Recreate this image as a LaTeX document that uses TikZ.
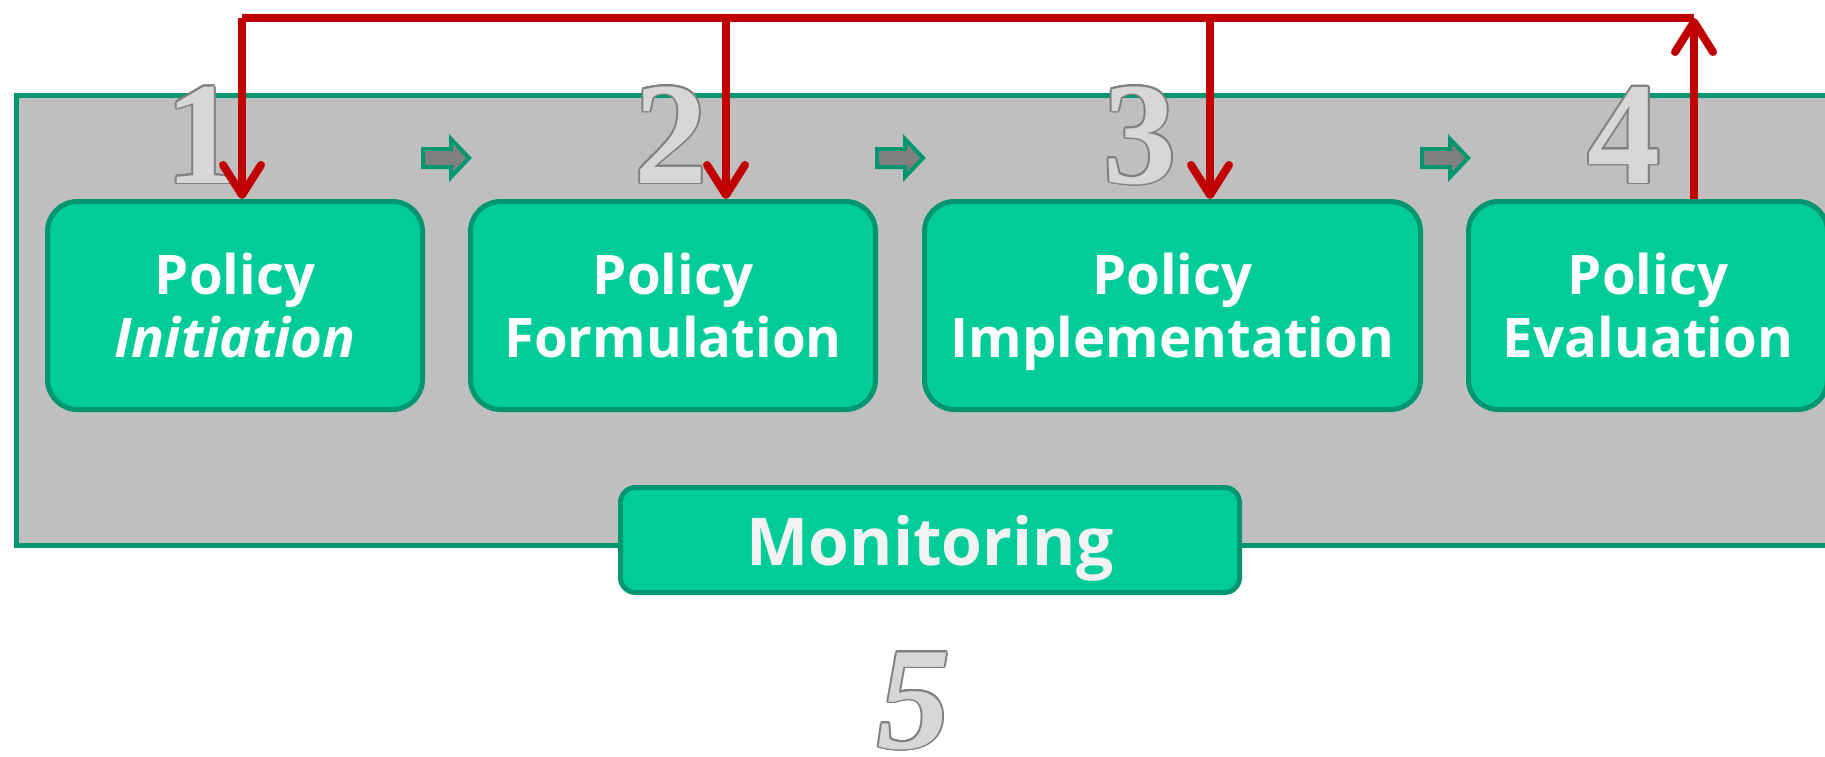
\documentclass[tikz,border=0pt]{standalone}
\usepackage{fontspec}
\setmainfont{Open Sans}
\newfontfamily\numfont{Liberation Serif}
\usepackage{contour}
\usepackage{tikz}
\usetikzlibrary{arrows.meta,positioning}
\definecolor{stgreen}{RGB}{0,204,153}
\definecolor{stedge}{RGB}{0,150,112}
\definecolor{panel}{RGB}{191,191,191}
\definecolor{fbred}{RGB}{192,0,0}
\definecolor{numfill}{RGB}{215,215,215}
\definecolor{numedge}{RGB}{128,128,128}
\definecolor{montext}{RGB}{242,242,242}
\contourlength{1.6pt}
\tikzstyle{stage} = [draw=stedge, line width=5pt, fill=stgreen, rounded corners=30pt, text=white, align=center, font=\fontsize{54.6}{63}\selectfont\bfseries, text depth=0pt, inner sep=0pt, minimum height=208pt]
\tikzstyle{monbox} = [draw=stedge, line width=5pt, fill=stgreen, rounded corners=15pt, text=montext, font=\fontsize{66}{70}\selectfont\bfseries, text depth=0pt, inner sep=0pt, minimum width=619pt, minimum height=105pt]
\tikzstyle{num} = [font=\fontsize{146}{146}\selectfont\numfont\bfseries, inner sep=0pt, text depth=0pt, anchor=base]
\tikzstyle{feedback} = [line width=8pt, color=fbred]
\tikzstyle{fbarrow} = [feedback, -{Straight Barb[length=30pt,width=38pt,line cap=round,line join=round]}]
\tikzstyle{stepshift} = [draw=stedge, line width=4pt, fill=numedge]
\newcommand{\silver}[1]{\contour{numedge}{\textcolor{numfill}{#1}}}

\begin{document}
\begin{tikzpicture}[x=1pt, y=-1pt]
\useasboundingbox (0,0) rectangle (1825,756);
\clip (0,0) rectangle (1825,756);

% Panel behind the cycle
\draw[draw=stedge, line width=5pt, fill=panel] (16.5,95.5) rectangle (1850,545.5);

% Stages
\node[stage, minimum width=375pt] (b1) at (235,305.5) {Policy\\\textit{Initiation}};
\node[stage, minimum width=405pt] (b2) at (673,305.5) {Policy\\Formulation};
\node[stage, minimum width=496pt] (b3) at (1172.5,305.5) {Policy\\Implementation};
\node[stage, minimum width=359pt] (b4) at (1648,305.5) {Policy\\Evaluation};
\node[monbox] (mon) at (930,540) {Monitoring};

% Small arrows between stages
\foreach \x in {446,900,1445}
  \draw[stepshift] (\x-23,149) -- (\x+5,149) -- (\x+5,139) -- (\x+23,158)
    -- (\x+5,177) -- (\x+5,167) -- (\x-23,167) -- cycle;

% Step numbers
\node[num] (n1) at (202,183) {\silver{1}};
\node[num] (n2) at (671,183) {\silver{2}};
\node[num] (n3) at (1140,183) {\silver{3}};
\node[num] (n4) at (1624,183) {\silver{4}};
\node[num] (n5) at (914,748) {\silver{\itshape 5}};

% Feedback loop
\coordinate (up) at (1694,18);
\coordinate (t1) at (242,18);
\coordinate (t2) at (726,18);
\coordinate (t3) at (1210,18);
\draw[fbarrow] (b4.north -| up) -- (up);
\draw[feedback] (up) -- (t1);
\draw[fbarrow] (t1) -- (t1 |- b1.north);
\draw[fbarrow] (t2) -- (t2 |- b2.north);
\draw[fbarrow] (t3) -- (t3 |- b3.north);
\end{tikzpicture}
\end{document}
